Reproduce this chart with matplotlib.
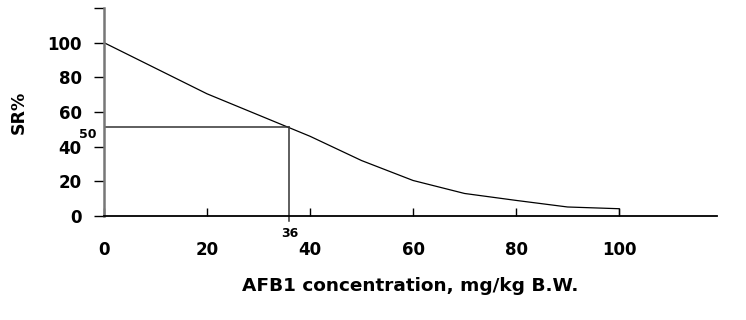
import matplotlib
matplotlib.use("Agg")
import matplotlib.pyplot as plt

conc = [0, 20, 40, 50, 60, 70, 80, 90, 100]
sr = [100, 70.5, 46, 32, 20.5, 13, 9, 5.2, 4.2]
ld50_x = 36
ld50_y = 51.5
xticks = [0, 20, 40, 60, 80, 100]
yticks = [0, 20, 40, 60, 80, 100, 120]
ytick_labels = ["0", "20", "40", "60", "80", "100", ""]

plt.rcParams['font.family'] = ['DejaVu Sans']
fig = plt.figure(figsize=(7.46, 3.2), dpi=100)
ax = fig.add_axes([0.1394, 0.325, 0.8216, 0.65])

ax.plot(conc, sr, color='black', lw=0.9)
ax.plot([0, ld50_x], [ld50_y, ld50_y], color='#333333', lw=1.1)
ax.plot([ld50_x, ld50_x], [ld50_y, -3], color='#333333', lw=1.1, clip_on=False)
ax.plot([100, 100], [0, sr[-1]], color='black', lw=0.9)

ax.set_xlim(0, 119)
ax.set_ylim(0, 120)
ax.spines['top'].set_visible(False)
ax.spines['right'].set_visible(False)
ax.spines['left'].set_color('#777777')
ax.spines['left'].set_linewidth(1.8)
ax.spines['bottom'].set_color('black')
ax.spines['bottom'].set_linewidth(1.3)

ax.set_xticks(xticks)
ax.set_xticklabels([str(v) for v in xticks])
ax.set_yticks(yticks)
ax.set_yticklabels(ytick_labels)
ax.tick_params(axis='x', direction='in', length=6, width=1, pad=18, labelsize=12)
ax.tick_params(axis='y', direction='out', length=7, width=1, pad=9, labelsize=12)
for lbl in ax.get_xticklabels() + ax.get_yticklabels():
    lbl.set_fontweight('bold')

ax.text(ld50_x, -6.5, str(ld50_x), ha='center', va='top', fontsize=9, fontweight='bold')
ax.text(-1.5, ld50_y - 1, "50", ha='right', va='top', fontsize=9, fontweight='bold')

ax.set_xlabel("AFB1 concentration, mg/kg B.W.", fontsize=13.3, fontweight='bold', labelpad=13)
ax.set_ylabel("SR%", fontsize=12.5, fontweight='bold', labelpad=14)

fig.savefig("out.png", dpi=100)
